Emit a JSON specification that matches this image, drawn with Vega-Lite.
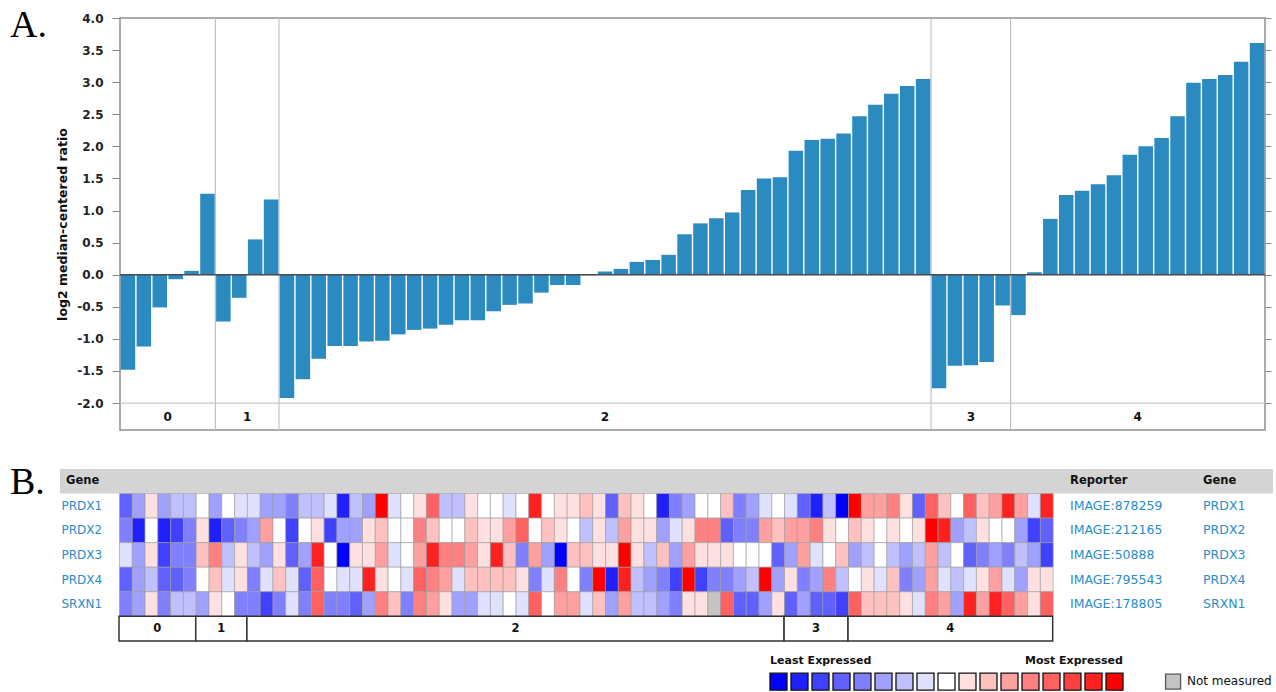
{
  "$schema": "https://vega.github.io/schema/vega-lite/v6.json",
  "padding": {"left": 10, "top": 7, "right": 0, "bottom": 0},
  "background": "white",
  "spacing": 33,
  "datasets": {
    "bars": [
      {"n":1,"v":-1.48},{"n":2,"v":-1.12},{"n":3,"v":-0.51},{"n":4,"v":-0.07},{"n":5,"v":0.06},{"n":6,"v":1.26},
      {"n":7,"v":-0.73},{"n":8,"v":-0.36},{"n":9,"v":0.55},{"n":10,"v":1.17},
      {"n":11,"v":-1.92},{"n":12,"v":-1.63},{"n":13,"v":-1.31},{"n":14,"v":-1.11},{"n":15,"v":-1.11},{"n":16,"v":-1.04},{"n":17,"v":-1.03},{"n":18,"v":-0.93},{"n":19,"v":-0.86},{"n":20,"v":-0.84},
      {"n":21,"v":-0.78},{"n":22,"v":-0.71},{"n":23,"v":-0.71},{"n":24,"v":-0.57},{"n":25,"v":-0.47},{"n":26,"v":-0.45},{"n":27,"v":-0.28},{"n":28,"v":-0.16},{"n":29,"v":-0.16},{"n":30,"v":-0.01},
      {"n":31,"v":0.05},{"n":32,"v":0.09},{"n":33,"v":0.20},{"n":34,"v":0.23},{"n":35,"v":0.31},{"n":36,"v":0.63},{"n":37,"v":0.80},{"n":38,"v":0.88},{"n":39,"v":0.97},{"n":40,"v":1.32},
      {"n":41,"v":1.50},{"n":42,"v":1.52},{"n":43,"v":1.93},{"n":44,"v":2.10},{"n":45,"v":2.12},{"n":46,"v":2.20},{"n":47,"v":2.47},{"n":48,"v":2.65},{"n":49,"v":2.82},{"n":50,"v":2.94},{"n":51,"v":3.05},
      {"n":52,"v":-1.77},{"n":53,"v":-1.42},{"n":54,"v":-1.41},{"n":55,"v":-1.36},{"n":56,"v":-0.48},
      {"n":57,"v":-0.63},{"n":58,"v":0.04},{"n":59,"v":0.87},{"n":60,"v":1.24},{"n":61,"v":1.31},{"n":62,"v":1.41},{"n":63,"v":1.55},{"n":64,"v":1.87},{"n":65,"v":2.00},{"n":66,"v":2.13},{"n":67,"v":2.47},{"n":68,"v":2.99},{"n":69,"v":3.05},{"n":70,"v":3.11},{"n":71,"v":3.32},{"n":72,"v":3.61}
    ],
    "seps": [{"b":6.5},{"b":10.5},{"b":51.5},{"b":56.5}],
    "glabA": [{"g":"0","m":3.5},{"g":"1","m":8.5},{"g":"2","m":31},{"g":"3","m":54},{"g":"4","m":64.5}],
    "heat": [
      {"c":0,"PRDX1":-5,"PRDX2":-4,"PRDX3":-1,"PRDX4":-5,"SRXN1":-4},
      {"c":1,"PRDX1":-3,"PRDX2":-7,"PRDX3":-3,"PRDX4":-3,"SRXN1":-3},
      {"c":2,"PRDX1":1,"PRDX2":0,"PRDX3":1,"PRDX4":-2,"SRXN1":1},
      {"c":3,"PRDX1":-3,"PRDX2":-7,"PRDX3":-6,"PRDX4":-5,"SRXN1":-4},
      {"c":4,"PRDX1":-2,"PRDX2":-6,"PRDX3":-4,"PRDX4":-5,"SRXN1":-2},
      {"c":5,"PRDX1":-2,"PRDX2":-4,"PRDX3":-4,"PRDX4":-4,"SRXN1":-2},
      {"c":6,"PRDX1":0,"PRDX2":1,"PRDX3":2,"PRDX4":0,"SRXN1":-3},
      {"c":7,"PRDX1":-3,"PRDX2":-7,"PRDX3":4,"PRDX4":2,"SRXN1":1},
      {"c":8,"PRDX1":0,"PRDX2":-5,"PRDX3":-2,"PRDX4":-1,"SRXN1":0},
      {"c":9,"PRDX1":-1,"PRDX2":-4,"PRDX3":1,"PRDX4":1,"SRXN1":-4},
      {"c":10,"PRDX1":-1,"PRDX2":-3,"PRDX3":-2,"PRDX4":-4,"SRXN1":-4},
      {"c":11,"PRDX1":-3,"PRDX2":3,"PRDX3":-3,"PRDX4":-1,"SRXN1":-6},
      {"c":12,"PRDX1":-3,"PRDX2":0,"PRDX3":1,"PRDX4":2,"SRXN1":-4},
      {"c":13,"PRDX1":-4,"PRDX2":-6,"PRDX3":-5,"PRDX4":-1,"SRXN1":-1},
      {"c":14,"PRDX1":-2,"PRDX2":0,"PRDX3":-3,"PRDX4":-5,"SRXN1":-4},
      {"c":15,"PRDX1":-2,"PRDX2":1,"PRDX3":7,"PRDX4":5,"SRXN1":5},
      {"c":16,"PRDX1":-1,"PRDX2":-6,"PRDX3":0,"PRDX4":0,"SRXN1":-4},
      {"c":17,"PRDX1":-7,"PRDX2":-3,"PRDX3":-8,"PRDX4":-1,"SRXN1":-4},
      {"c":18,"PRDX1":-2,"PRDX2":-3,"PRDX3":1,"PRDX4":-1,"SRXN1":-5},
      {"c":19,"PRDX1":-3,"PRDX2":1,"PRDX3":1,"PRDX4":7,"SRXN1":-3},
      {"c":20,"PRDX1":8,"PRDX2":2,"PRDX3":3,"PRDX4":1,"SRXN1":4},
      {"c":21,"PRDX1":-1,"PRDX2":0,"PRDX3":-1,"PRDX4":0,"SRXN1":2},
      {"c":22,"PRDX1":0,"PRDX2":0,"PRDX3":0,"PRDX4":-1,"SRXN1":-4},
      {"c":23,"PRDX1":1,"PRDX2":4,"PRDX3":3,"PRDX4":5,"SRXN1":4},
      {"c":24,"PRDX1":5,"PRDX2":2,"PRDX3":7,"PRDX4":4,"SRXN1":3},
      {"c":25,"PRDX1":-2,"PRDX2":0,"PRDX3":4,"PRDX4":3,"SRXN1":1},
      {"c":26,"PRDX1":-2,"PRDX2":0,"PRDX3":4,"PRDX4":-1,"SRXN1":-3},
      {"c":27,"PRDX1":1,"PRDX2":2,"PRDX3":3,"PRDX4":2,"SRXN1":-3},
      {"c":28,"PRDX1":0,"PRDX2":1,"PRDX3":1,"PRDX4":2,"SRXN1":-1},
      {"c":29,"PRDX1":0,"PRDX2":1,"PRDX3":7,"PRDX4":2,"SRXN1":-1},
      {"c":30,"PRDX1":-1,"PRDX2":3,"PRDX3":2,"PRDX4":2,"SRXN1":0},
      {"c":31,"PRDX1":0,"PRDX2":5,"PRDX3":-4,"PRDX4":1,"SRXN1":-1},
      {"c":32,"PRDX1":7,"PRDX2":0,"PRDX3":3,"PRDX4":-4,"SRXN1":5},
      {"c":33,"PRDX1":0,"PRDX2":2,"PRDX3":-3,"PRDX4":-1,"SRXN1":0},
      {"c":34,"PRDX1":1,"PRDX2":1,"PRDX3":-8,"PRDX4":4,"SRXN1":3},
      {"c":35,"PRDX1":1,"PRDX2":0,"PRDX3":2,"PRDX4":0,"SRXN1":3},
      {"c":36,"PRDX1":2,"PRDX2":-2,"PRDX3":2,"PRDX4":-4,"SRXN1":-1},
      {"c":37,"PRDX1":1,"PRDX2":1,"PRDX3":1,"PRDX4":8,"SRXN1":2},
      {"c":38,"PRDX1":-5,"PRDX2":-2,"PRDX3":1,"PRDX4":-7,"SRXN1":-3},
      {"c":39,"PRDX1":2,"PRDX2":3,"PRDX3":8,"PRDX4":7,"SRXN1":3},
      {"c":40,"PRDX1":1,"PRDX2":1,"PRDX3":1,"PRDX4":-2,"SRXN1":-2},
      {"c":41,"PRDX1":0,"PRDX2":1,"PRDX3":-2,"PRDX4":-3,"SRXN1":-2},
      {"c":42,"PRDX1":-7,"PRDX2":-3,"PRDX3":2,"PRDX4":-4,"SRXN1":-3},
      {"c":43,"PRDX1":-4,"PRDX2":-1,"PRDX3":-3,"PRDX4":-6,"SRXN1":-4},
      {"c":44,"PRDX1":-3,"PRDX2":1,"PRDX3":3,"PRDX4":8,"SRXN1":1},
      {"c":45,"PRDX1":0,"PRDX2":4,"PRDX3":1,"PRDX4":-6,"SRXN1":1},
      {"c":46,"PRDX1":0,"PRDX2":4,"PRDX3":1,"PRDX4":-4,"SRXN1":"NA"},
      {"c":47,"PRDX1":2,"PRDX2":-5,"PRDX3":1,"PRDX4":-4,"SRXN1":5},
      {"c":48,"PRDX1":-4,"PRDX2":-4,"PRDX3":0,"PRDX4":-3,"SRXN1":-5},
      {"c":49,"PRDX1":-3,"PRDX2":-4,"PRDX3":0,"PRDX4":-2,"SRXN1":-5},
      {"c":50,"PRDX1":-1,"PRDX2":3,"PRDX3":0,"PRDX4":8,"SRXN1":-3},
      {"c":51,"PRDX1":0,"PRDX2":2,"PRDX3":-5,"PRDX4":-3,"SRXN1":1},
      {"c":52,"PRDX1":-1,"PRDX2":3,"PRDX3":-3,"PRDX4":1,"SRXN1":-5},
      {"c":53,"PRDX1":-5,"PRDX2":3,"PRDX3":3,"PRDX4":-4,"SRXN1":-3},
      {"c":54,"PRDX1":-7,"PRDX2":4,"PRDX3":-1,"PRDX4":-3,"SRXN1":-5},
      {"c":55,"PRDX1":-2,"PRDX2":1,"PRDX3":0,"PRDX4":4,"SRXN1":-5},
      {"c":56,"PRDX1":-8,"PRDX2":0,"PRDX3":2,"PRDX4":-2,"SRXN1":-6},
      {"c":57,"PRDX1":8,"PRDX2":2,"PRDX3":-3,"PRDX4":0,"SRXN1":5},
      {"c":58,"PRDX1":3,"PRDX2":1,"PRDX3":-2,"PRDX4":1,"SRXN1":2},
      {"c":59,"PRDX1":3,"PRDX2":0,"PRDX3":0,"PRDX4":-1,"SRXN1":2},
      {"c":60,"PRDX1":4,"PRDX2":1,"PRDX3":-2,"PRDX4":2,"SRXN1":2},
      {"c":61,"PRDX1":1,"PRDX2":0,"PRDX3":-3,"PRDX4":-4,"SRXN1":1},
      {"c":62,"PRDX1":-5,"PRDX2":1,"PRDX3":-2,"PRDX4":-3,"SRXN1":-1},
      {"c":63,"PRDX1":5,"PRDX2":8,"PRDX3":3,"PRDX4":3,"SRXN1":4},
      {"c":64,"PRDX1":2,"PRDX2":7,"PRDX3":-2,"PRDX4":-1,"SRXN1":3},
      {"c":65,"PRDX1":0,"PRDX2":-3,"PRDX3":0,"PRDX4":-2,"SRXN1":-3},
      {"c":66,"PRDX1":5,"PRDX2":-2,"PRDX3":-5,"PRDX4":-1,"SRXN1":7},
      {"c":67,"PRDX1":2,"PRDX2":1,"PRDX3":-4,"PRDX4":1,"SRXN1":3},
      {"c":68,"PRDX1":3,"PRDX2":0,"PRDX3":-3,"PRDX4":3,"SRXN1":7},
      {"c":69,"PRDX1":7,"PRDX2":0,"PRDX3":-4,"PRDX4":-1,"SRXN1":5},
      {"c":70,"PRDX1":3,"PRDX2":-3,"PRDX3":-2,"PRDX4":-3,"SRXN1":3},
      {"c":71,"PRDX1":-1,"PRDX2":-6,"PRDX3":-3,"PRDX4":1,"SRXN1":1},
      {"c":72,"PRDX1":7,"PRDX2":-5,"PRDX3":-6,"PRDX4":1,"SRXN1":5}
    ],
    "boxes": [
      {"g":"0","s":0,"e":6,"m":3,"row":"grp"},
      {"g":"1","s":6,"e":10,"m":8,"row":"grp"},
      {"g":"2","s":10,"e":52,"m":31,"row":"grp"},
      {"g":"3","s":52,"e":57,"m":54.5,"row":"grp"},
      {"g":"4","s":57,"e":73,"m":65,"row":"grp"}
    ],
    "genes": [
      {"row":"PRDX1","rep":"IMAGE:878259"},
      {"row":"PRDX2","rep":"IMAGE:212165"},
      {"row":"PRDX3","rep":"IMAGE:50888"},
      {"row":"PRDX4","rep":"IMAGE:795543"},
      {"row":"SRXN1","rep":"IMAGE:178805"}
    ],
    "legend": [
      {"level":-8,"row":"leg"},{"level":-7,"row":"leg"},{"level":-6,"row":"leg"},{"level":-5,"row":"leg"},
      {"level":-4,"row":"leg"},{"level":-3,"row":"leg"},{"level":-2,"row":"leg"},{"level":-1,"row":"leg"},
      {"level":0,"row":"leg"},{"level":1,"row":"leg"},{"level":2,"row":"leg"},{"level":3,"row":"leg"},
      {"level":4,"row":"leg"},{"level":5,"row":"leg"},{"level":6,"row":"leg"},{"level":7,"row":"leg"},{"level":8,"row":"leg"}
    ]
  },
  "vconcat": [
    {
      "width": 1255,
      "height": 412,
      "view": {"stroke": null},
      "layer": [
        {
          "data": {"values": [{}]},
          "mark": {"type": "rect", "fillOpacity": 0, "stroke": "#8f8f8f", "strokeWidth": 1.5},
          "encoding": {
            "x": {"datum": 0.5, "type": "quantitative", "scale": {"domain": [-6.417, 72.5], "nice": false, "zero": false, "padding": 0}, "axis": null},
            "x2": {"datum": 72.5},
            "y": {"datum": -2.42, "type": "quantitative", "scale": {"domain": [-2.42, 4], "nice": false}, "axis": null},
            "y2": {"datum": 4}
          }
        },
        {
          "data": {"name": "seps"},
          "mark": {"type": "rule", "color": "#c2c2c2", "strokeWidth": 1.2},
          "encoding": {"x": {"field": "b", "type": "quantitative", "scale": {"domain": [-6.417, 72.5], "nice": false, "zero": false, "padding": 0}, "axis": null}}
        },
        {
          "data": {"values": [{}]},
          "mark": {"type": "rule", "color": "#c8c8c8", "strokeWidth": 1.2},
          "encoding": {
            "x": {"datum": 0.5, "type": "quantitative", "axis": null},
            "x2": {"datum": 72.5},
            "y": {"datum": -2, "type": "quantitative", "axis": null}
          }
        },
        {
          "data": {"name": "bars"},
          "mark": {"type": "bar", "width": 14.5, "color": "#2b8ac0"},
          "encoding": {
            "x": {"field": "n", "type": "quantitative", "scale": {"domain": [-6.417, 72.5], "nice": false, "zero": false, "padding": 0}, "axis": null},
            "y": {"field": "v", "type": "quantitative", "scale": {"domain": [-2.42, 4], "nice": false},
              "axis": {"orient": "left", "offset": -110, "values": [-2, -1.5, -1, -0.5, 0, 0.5, 1, 1.5, 2, 2.5, 3, 3.5, 4],
                "labelExpr": "replace(format(datum.value, '.1f'), '\u2212', '-')",
                "title": "log2 median-centered ratio", "titleFontSize": 12.5, "titleFontWeight": "bold", "titleColor": "#111111", "titlePadding": 7,
                "labelFontSize": 12, "labelFontWeight": "bold", "labelColor": "#222222", "labelPadding": 9,
                "tickSize": 8, "tickColor": "#888888", "domain": false, "grid": false}}
          }
        },
        {
          "data": {"values": [{}]},
          "mark": {"type": "rule", "color": "#4a4a4a", "strokeWidth": 1.6},
          "encoding": {
            "x": {"datum": 0.5, "type": "quantitative", "axis": null},
            "x2": {"datum": 72.5},
            "y": {"datum": 0, "type": "quantitative",
              "axis": {"orient": "right", "values": [-2, -1.5, -1, -0.5, 0, 0.5, 1, 1.5, 2, 2.5, 3, 3.5, 4], "labels": false, "title": null, "ticks": true, "tickSize": 6, "tickColor": "#888888", "domain": false, "grid": false}}
          }
        },
        {
          "data": {"name": "glabA"},
          "mark": {"type": "text", "fontWeight": "bold", "fontSize": 12, "color": "#111111"},
          "encoding": {
            "x": {"field": "m", "type": "quantitative", "axis": null},
            "y": {"datum": -2.21, "type": "quantitative", "axis": null},
            "text": {"field": "g"}
          }
        },
        {
          "data": {"values": [{"t": "A."}]},
          "mark": {"type": "text", "align": "left", "baseline": "alphabetic", "dy": 19, "font": "Liberation Serif", "fontSize": 38, "color": "#000000"},
          "encoding": {
            "x": {"datum": -6.417, "type": "quantitative", "axis": null},
            "y": {"datum": 4, "type": "quantitative", "axis": null},
            "text": {"field": "t"}
          }
        }
      ],
      "resolve": {"axis": {"y": "independent"}}
    },
    {
      "width": 1263,
      "height": 221,
      "view": {"stroke": null},
      "layer": [
        {
          "layer": [
            {
              "data": {"values": [{"row": "hdr"}]},
              "mark": {"type": "rect", "color": "#d4d4d4"},
              "encoding": {
                "x": {"datum": -4.61, "type": "quantitative", "scale": {"domain": [-8.5223, 90.227], "nice": false, "zero": false, "padding": 0}, "axis": null},
                "x2": {"datum": 90.227},
                "y": {"field": "row", "type": "nominal", "scale": {"type": "band", "domain": ["hdr","PRDX1","PRDX2","PRDX3","PRDX4","SRXN1","grp","ltitle","leg"], "paddingInner": 0, "paddingOuter": 0}, "axis": null}
              }
            },
            {
              "data": {"name": "heat"},
              "transform": [{"fold": ["PRDX1","PRDX2","PRDX3","PRDX4","SRXN1"], "as": ["row","level"]}],
              "mark": {"type": "rect", "stroke": "#9a9a9a", "strokeWidth": 0.6},
              "encoding": {
                "x": {"field": "c", "type": "quantitative", "bin": {"binned": true, "step": 1}, "scale": {"domain": [-8.5223, 90.227], "nice": false, "zero": false, "padding": 0}, "axis": null},
                "y": {"field": "row", "type": "nominal", "scale": {"type": "band", "domain": ["hdr","PRDX1","PRDX2","PRDX3","PRDX4","SRXN1","grp","ltitle","leg"], "paddingInner": 0, "paddingOuter": 0}, "axis": null},
                "color": {"field": "level", "type": "ordinal",
                  "scale": {"domain": [-8,-7,-6,-5,-4,-3,-2,-1,0,1,2,3,4,5,6,7,8,"NA"],
                    "range": ["#0000ff","#2020ff","#4040ff","#6060ff","#8080ff","#a0a0ff","#c0c0ff","#e0e0ff","#ffffff","#ffe0e0","#ffc0c0","#ffa0a0","#ff8080","#ff6060","#ff4040","#ff2020","#ff0000","#c4c4c4"]},
                  "legend": null}
              }
            },
            {
              "data": {"name": "boxes"},
              "mark": {"type": "rect", "fill": "#ffffff", "stroke": "#333333", "strokeWidth": 1.5},
              "encoding": {
                "x": {"field": "s", "type": "quantitative", "axis": null},
                "x2": {"field": "e"},
                "y": {"field": "row", "type": "nominal", "axis": null}
              }
            },
            {
              "data": {"name": "boxes"},
              "mark": {"type": "text", "fontWeight": "bold", "fontSize": 11.5, "color": "#111111"},
              "encoding": {
                "x": {"field": "m", "type": "quantitative", "axis": null},
                "y": {"field": "row", "type": "nominal", "axis": null},
                "text": {"field": "g"}
              }
            },
            {
              "data": {"name": "genes"},
              "mark": {"type": "text", "align": "left", "fontSize": 12, "color": "#2a8cc8"},
              "encoding": {
                "x": {"datum": -4.5, "type": "quantitative", "axis": null},
                "y": {"field": "row", "type": "nominal", "axis": null},
                "text": {"field": "row"}
              }
            },
            {
              "data": {"name": "genes"},
              "mark": {"type": "text", "align": "left", "fontSize": 12.5, "color": "#2a8cc8"},
              "encoding": {
                "x": {"datum": 74.36, "type": "quantitative", "axis": null},
                "y": {"field": "row", "type": "nominal", "axis": null},
                "text": {"field": "rep"}
              }
            },
            {
              "data": {"name": "genes"},
              "mark": {"type": "text", "align": "left", "fontSize": 12.5, "color": "#2a8cc8"},
              "encoding": {
                "x": {"datum": 84.76, "type": "quantitative", "axis": null},
                "y": {"field": "row", "type": "nominal", "axis": null},
                "text": {"field": "row"}
              }
            },
            {
              "data": {"values": [{"row": "hdr", "h": "Gene"}]},
              "mark": {"type": "text", "align": "left", "fontSize": 11.5, "fontWeight": "bold", "color": "#111111"},
              "encoding": {
                "x": {"datum": -4.14, "type": "quantitative", "axis": null},
                "y": {"field": "row", "type": "nominal", "axis": null},
                "text": {"field": "h"}
              }
            },
            {
              "data": {"values": [{"row": "hdr", "h": "Reporter"}]},
              "mark": {"type": "text", "align": "left", "fontSize": 11.5, "fontWeight": "bold", "color": "#111111"},
              "encoding": {
                "x": {"datum": 74.36, "type": "quantitative", "axis": null},
                "y": {"field": "row", "type": "nominal", "axis": null},
                "text": {"field": "h"}
              }
            },
            {
              "data": {"values": [{"row": "hdr", "h": "Gene"}]},
              "mark": {"type": "text", "align": "left", "fontSize": 11.5, "fontWeight": "bold", "color": "#111111"},
              "encoding": {
                "x": {"datum": 84.76, "type": "quantitative", "axis": null},
                "y": {"field": "row", "type": "nominal", "axis": null},
                "text": {"field": "h"}
              }
            },
            {
              "data": {"values": [{"row": "hdr", "t": "B."}]},
              "mark": {"type": "text", "align": "left", "baseline": "alphabetic", "dy": 13, "font": "Liberation Serif", "fontSize": 38, "color": "#000000"},
              "encoding": {
                "x": {"datum": -8.5223, "type": "quantitative", "axis": null},
                "y": {"field": "row", "type": "nominal", "axis": null},
                "text": {"field": "t"}
              }
            }
          ]
        },
        {
          "layer": [
            {
              "data": {"name": "legend"},
              "mark": {"type": "square", "size": 289, "filled": true, "opacity": 1, "stroke": "#111111", "strokeWidth": 1.3, "yOffset": 4},
              "encoding": {
                "x": {"field": "level", "type": "quantitative", "scale": {"domain": [-44.595, 15.548], "nice": false, "zero": false, "padding": 0}, "axis": null},
                "y": {"field": "row", "type": "nominal", "axis": null},
                "color": {"field": "level", "type": "ordinal", "legend": null}
              }
            },
            {
              "data": {"values": [{"row": "leg", "level": "NA"}]},
              "mark": {"type": "square", "size": 225, "filled": true, "opacity": 1, "stroke": "#555555", "strokeWidth": 1.3, "yOffset": 4},
              "encoding": {
                "x": {"datum": 10.79, "type": "quantitative", "axis": null},
                "y": {"field": "row", "type": "nominal", "axis": null},
                "color": {"field": "level", "type": "ordinal", "legend": null}
              }
            },
            {
              "data": {"values": [{"row": "ltitle", "t": "Least Expressed"}]},
              "mark": {"type": "text", "align": "left", "fontSize": 11, "fontWeight": "bold", "color": "#111111", "dy": 8},
              "encoding": {
                "x": {"datum": -8.4, "type": "quantitative", "axis": null},
                "y": {"field": "row", "type": "nominal", "axis": null},
                "text": {"field": "t"}
              }
            },
            {
              "data": {"values": [{"row": "ltitle", "t": "Most Expressed"}]},
              "mark": {"type": "text", "align": "right", "fontSize": 11, "fontWeight": "bold", "color": "#111111", "dy": 8},
              "encoding": {
                "x": {"datum": 8.4, "type": "quantitative", "axis": null},
                "y": {"field": "row", "type": "nominal", "axis": null},
                "text": {"field": "t"}
              }
            },
            {
              "data": {"values": [{"row": "leg", "t": "Not measured"}]},
              "mark": {"type": "text", "align": "left", "fontSize": 12, "color": "#111111", "dy": 3},
              "encoding": {
                "x": {"datum": 11.45, "type": "quantitative", "axis": null},
                "y": {"field": "row", "type": "nominal", "axis": null},
                "text": {"field": "t"}
              }
            }
          ]
        }
      ],
      "resolve": {"scale": {"x": "independent"}}
    }
  ],
  "config": {
    "font": "DejaVu Sans",
    "view": {"stroke": null},
    "text": {"font": "DejaVu Sans"},
    "axis": {"labelFont": "DejaVu Sans", "titleFont": "DejaVu Sans"}
  }
}
